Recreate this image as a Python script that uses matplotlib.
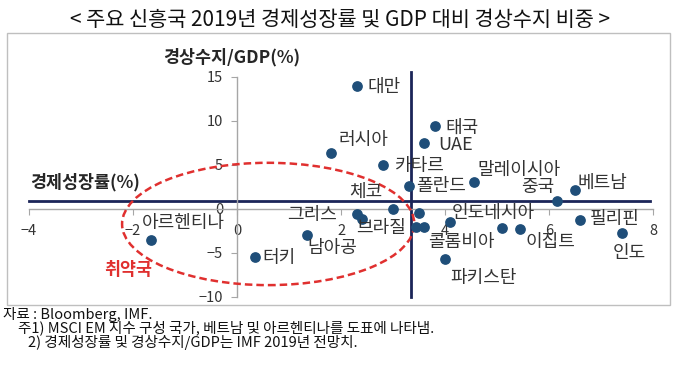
import matplotlib
matplotlib.use("Agg")
import matplotlib.pyplot as plt
from matplotlib.patches import Ellipse, Rectangle

plt.rcParams['font.family'] = ['Noto Sans CJK KR', 'DejaVu Sans']

# 2019 IMF forecast: GDP growth (%) vs current account / GDP (%)
countries = ['대만', '태국', 'UAE', '러시아', '카타르', '폴란드', '말레이시아', '베트남',
             '중국', '필리핀', '인도', '이집트', '인도네시아', '콜롬비아', '파키스탄',
             '체코', '그리스', '', '', '브라질', '', '남아공', '터키', '아르헨티나']
growth = [2.3, 3.8, 3.6, 1.8, 2.8, 3.3, 4.55, 6.5,
          6.15, 6.6, 7.4, 5.45, 5.1, 4.1, 4.0,
          3.0, 2.3, 2.4, 3.5, 3.45, 3.6, 1.35, 0.35, -1.65]
ca_gdp = [14.0, 9.4, 7.5, 6.4, 5.0, 2.6, 3.1, 2.2,
          0.9, -1.25, -2.7, -2.3, -2.2, -1.5, -5.7,
          0.0, -0.6, -1.1, -0.5, -2.0, -2.0, -3.0, -5.5, -3.5]

x_ticks = [-4, -2, 0, 2, 4, 6, 8]
y_ticks = [-10, -5, 0, 5, 10, 15]

# reference lines drawn on the chart
growth_line = 3.35
ca_line = 0.9

# label offsets in pixels (dx right, dy down) and alignment
label_pos = {
    '대만': (11, 1, 'left'), '태국': (11, 2, 'left'), 'UAE': (14, 2, 'left'),
    '러시아': (8, -13, 'left'), '카타르': (12, 1, 'left'), '폴란드': (8, 0, 'left'),
    '말레이시아': (4, -12, 'left'), '베트남': (3, -7, 'left'), '중국': (-19, -14, 'center'),
    '필리핀': (10, -1, 'left'), '인도': (8, 20, 'center'), '이집트': (30, 13, 'center'),
    '인도네시아': (-9, -15, 'center'), '콜롬비아': (11, 20, 'center'),
    '파키스탄': (39, 19, 'center'), '체코': (-11, -17, 'right'), '그리스': (-20, 1, 'right'),
    '브라질': (-10, 1, 'right'), '남아공': (25, 13, 'center'), '터키': (7, 1, 'left'),
    '아르헨티나': (32, -17, 'center'),
}

W, H = 680, 375
fig = plt.figure(figsize=(6.8, 3.75), dpi=100)
ax = fig.add_axes([29 / W, 1 - 297 / H, 624 / W, 220 / H])

ax.set_xlim(-4, 8)
ax.set_ylim(-10, 15)
ax.set_xticks(x_ticks)
ax.set_yticks(y_ticks)

gray = '#a6a6a6'
for s in ['top', 'right']:
    ax.spines[s].set_visible(False)
ax.spines['left'].set_position(('data', 0))
ax.spines['bottom'].set_position(('data', 0))
for s in ['left', 'bottom']:
    ax.spines[s].set_color(gray)
    ax.spines[s].set_linewidth(1)
ax.tick_params(axis='both', colors=gray, direction='out', length=4, labelcolor='#333333',
               labelsize=10.5)
ax.tick_params(axis='x', pad=7)
ax.tick_params(axis='y', pad=6)
ax.patch.set_alpha(0)

navy = '#1b2558'
ax.plot([-4, 7.95], [ca_line, ca_line], color=navy, lw=2, clip_on=False, zorder=2)
ax.plot([growth_line, growth_line], [-10, 15.6], color=navy, lw=2, clip_on=False, zorder=2)

ax.scatter(growth, ca_gdp, s=45, color='#1f4e79', zorder=4, clip_on=False)

for name, gx, cy in zip(countries, growth, ca_gdp):
    if not name:
        continue
    dx, dy, ha = label_pos[name]
    ax.annotate(name, (gx, cy), xytext=(dx * 0.72, -dy * 0.72), textcoords='offset points',
                ha=ha, va='center', fontsize=13, color='#333333', zorder=5)

red = '#e0302f'
ax.add_patch(Ellipse((0.6, -1.7), 5.62, 13.9, fill=False, ec=red, lw=1.8,
                     ls=(0, (3, 1.6)), clip_on=False, zorder=3))
ax.text(-2.1, -6.9, '취약국', color=red, fontsize=12.5, fontweight='bold',
        ha='center', va='center')

fig.text(232 / W, 1 - 57 / H, '경상수지/GDP(%)', ha='center', va='center',
         fontsize=12.5, fontweight='bold', color='#262626')
fig.text(30 / W, 1 - 182 / H, '경제성장률(%)', ha='left', va='center',
         fontsize=12.5, fontweight='bold', color='#262626')

# chart frame
fig.add_artist(Rectangle((7 / W, 1 - 305 / H), 663 / W, 272 / H, transform=fig.transFigure,
                         fill=False, ec='#bfbfbf', lw=1))

fig.text(340 / W, 1 - 20 / H, '< 주요 신흥국 2019년 경제성장률 및 GDP 대비 경상수지 비중 >',
         ha='center', va='center', fontsize=15, fontweight='medium', color='#111111')

notes = ['자료 : Bloomberg, IMF.',
         '주1) MSCI EM 지수 구성 국가, 베트남 및 아르헨티나를 도표에 나타냄.',
         '2) 경제성장률 및 경상수지/GDP는 IMF 2019년 전망치.']
note_x = [3, 18, 28]
note_y = [314, 328, 342]
for t, nx, ny in zip(notes, note_x, note_y):
    fig.text(nx / W, 1 - ny / H, t, ha='left', va='center', fontsize=10.5, color='#111111')

fig.savefig('out.png', dpi=100)
